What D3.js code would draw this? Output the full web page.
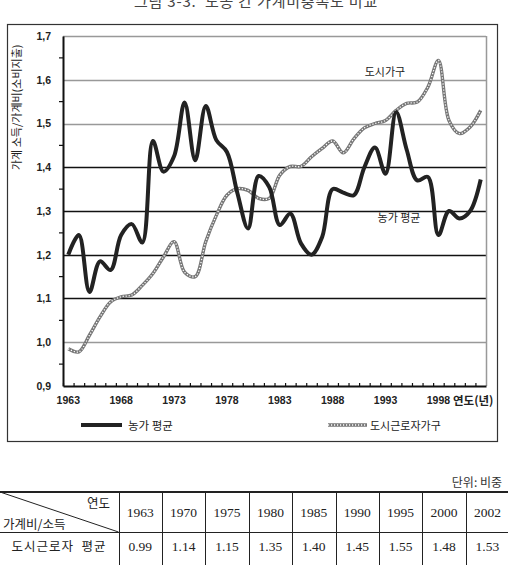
<!DOCTYPE html>
<html>
<head>
<meta charset="utf-8">
<script src="https://cdn.jsdelivr.net/npm/d3@7"></script>
<style>
  body { margin: 0; background: #fff; }
  svg { display: block; font-family: "Noto Sans CJK KR", "Liberation Sans", sans-serif; }
  .tick-label { font-family: "Liberation Sans", Arial, sans-serif; font-weight: bold; fill: #222; }
  .num { font-family: "Liberation Serif", "Times New Roman", serif; }
</style>
</head>
<body>
<div id="chart"></div>
<script>
// categories
const years = [1963, 1964, 1965, 1966, 1967, 1968, 1969, 1970, 1971, 1972,
               1973, 1974, 1975, 1976, 1977, 1978, 1979, 1980, 1981, 1982,
               1983, 1984, 1985, 1986, 1987, 1988, 1989, 1990, 1991, 1992,
               1993, 1994, 1995, 1996, 1997, 1998, 1999, 2000, 2001, 2002];

// 농가 평균
const farmAvg = [1.20, 1.245, 1.115, 1.185, 1.165, 1.245, 1.27, 1.228, 1.46, 1.39,
                 1.425, 1.548, 1.416, 1.54, 1.462, 1.435, 1.34, 1.26, 1.38, 1.355,
                 1.268, 1.294, 1.226, 1.20, 1.24, 1.35, 1.342, 1.336, 1.40, 1.445,
                 1.385, 1.526, 1.44, 1.37, 1.378, 1.245, 1.30, 1.283, 1.30, 1.372];

// 도시근로자가구
const urbanWorker = [0.985, 0.978, 1.016, 1.058, 1.092, 1.104, 1.108, 1.13, 1.157, 1.195,
                     1.23, 1.16, 1.15, 1.23, 1.29, 1.336, 1.351, 1.347, 1.329, 1.329,
                     1.382, 1.402, 1.402, 1.424, 1.443, 1.46, 1.433, 1.465, 1.49, 1.50,
                     1.507, 1.53, 1.546, 1.549, 1.583, 1.644, 1.507, 1.477, 1.492, 1.53];

const yTicks = [0.9, 1.0, 1.1, 1.2, 1.3, 1.4, 1.5, 1.6, 1.7];
const xLabelYears = [1963, 1968, 1973, 1978, 1983, 1988, 1993, 1998];

// table below chart
const tableYears = [1963, 1970, 1975, 1980, 1985, 1990, 1995, 2000, 2002];
const tableValues = ["0.99", "1.14", "1.15", "1.35", "1.40", "1.45", "1.55", "1.48", "1.53"];

const W = 508, H = 565;
const plot = { left: 63, right: 486, top: 36, bottom: 386 };

const svg = d3.select("#chart").append("svg")
    .attr("width", W)
    .attr("height", H);

// title
svg.append("text")
    .attr("x", 256)
    .attr("y", 7)
    .attr("text-anchor", "middle")
    .style("font-size", "15px")
    .style("letter-spacing", "0.8px")
    .style("white-space", "pre")
    .style("fill", "#444")
    .text("그림 3-3.  도농 간 가계비충족도 비교");

// outer frame
svg.append("rect")
    .attr("x", 7.5).attr("y", 24.5)
    .attr("width", 490).attr("height", 417)
    .attr("fill", "none")
    .attr("stroke", "#333")
    .attr("stroke-width", 1.2);

const x = d3.scaleBand()
    .domain(years)
    .range([plot.left, plot.right]);

const y = d3.scaleLinear()
    .domain([0.9, 1.7])
    .range([plot.bottom, plot.top]);

const cx = d => x(d) + x.bandwidth() / 2;

// grid lines (1.1 - 1.4 are dark in the original)
const g = svg.append("g");
g.selectAll(".grid")
    .data(yTicks.filter(d => d > 0.9))
    .join("line")
    .attr("x1", plot.left).attr("x2", plot.right)
    .attr("y1", d => Math.round(y(d)) + 0.5)
    .attr("y2", d => Math.round(y(d)) + 0.5)
    .attr("stroke", d => (d > 1.05 && d < 1.45) ? "#111" : "#999")
    .attr("stroke-width", d => (d > 1.05 && d < 1.45) ? 1.4 : 1.5);

// right border of plot
g.append("line")
    .attr("x1", plot.right + 0.5).attr("x2", plot.right + 0.5)
    .attr("y1", plot.top).attr("y2", plot.bottom)
    .attr("stroke", "#999").attr("stroke-width", 1.5);

// y axis
const yAxis = d3.axisLeft(y)
    .tickValues(yTicks)
    .tickSize(0)
    .tickPadding(12)
    .tickFormat(d => d3.format(".1f")(d).replace(".", ","));

const yAxisG = svg.append("g")
    .attr("transform", `translate(${plot.left},0)`)
    .call(yAxis);
yAxisG.select(".domain").attr("stroke", "#111").attr("stroke-width", 2);
yAxisG.selectAll("text").attr("class", "tick-label").style("font-size", "10.5px");

// minor y ticks at the half steps
svg.append("g").selectAll("line")
    .data(yTicks.slice(0, -1).map(d => d + 0.05))
    .join("line")
    .attr("x1", plot.left - 4).attr("x2", plot.left)
    .attr("y1", d => y(d)).attr("y2", d => y(d))
    .attr("stroke", "#111").attr("stroke-width", 1.2);

// x axis
const xAxis = d3.axisBottom(x)
    .tickValues(xLabelYears)
    .tickSize(0)
    .tickPadding(11);

const xAxisG = svg.append("g")
    .attr("transform", `translate(0,${plot.bottom})`)
    .call(xAxis);
xAxisG.select(".domain").attr("stroke", "#111").attr("stroke-width", 2);
xAxisG.selectAll("text").attr("class", "tick-label").style("font-size", "10.5px");

// small ticks at band edges
svg.append("g").selectAll("line")
    .data(years)
    .join("line")
    .attr("x1", d => x(d) + 0.5).attr("x2", d => x(d) + 0.5)
    .attr("y1", plot.bottom - 3).attr("y2", plot.bottom)
    .attr("stroke", "#111").attr("stroke-width", 1.2);

svg.append("text")
    .attr("x", 453)
    .attr("y", 405)
    .style("font-size", "11.5px")
    .style("font-weight", "bold")
    .style("fill", "#222")
    .text("연도(년)");

// y axis title
svg.append("text")
    .attr("transform", "translate(21,170) rotate(-90)")
    .style("font-size", "11px")
    .style("fill", "#222")
    .text("가계 소득/가계비(소비지출)");

// lines
const line = (vals) => d3.line()
    .x((d, i) => cx(years[i]))
    .y(d => y(d))
    .curve(d3.curveCatmullRom.alpha(0.5))(vals);

// urban: chain of tiny rings
svg.append("path")
    .attr("d", line(urbanWorker))
    .attr("fill", "none")
    .attr("stroke", "#777")
    .attr("stroke-width", 3.4);
svg.append("path")
    .attr("d", line(urbanWorker))
    .attr("fill", "none")
    .attr("stroke", "#fff")
    .attr("stroke-width", 1.3)
    .attr("stroke-dasharray", "1.2 1.8");

svg.append("path")
    .attr("d", line(farmAvg))
    .attr("fill", "none")
    .attr("stroke", "#222")
    .attr("stroke-width", 4)
    .attr("stroke-linejoin", "round");

// in-chart labels
svg.append("text")
    .attr("x", 385).attr("y", 76)
    .attr("text-anchor", "middle")
    .style("font-size", "11px").style("fill", "#222")
    .text("도시가구");

svg.append("text")
    .attr("x", 399).attr("y", 222)
    .attr("text-anchor", "middle")
    .style("font-size", "11px").style("fill", "#222")
    .text("농가 평균");

// legend
const legend = svg.append("g");
legend.append("line")
    .attr("x1", 81).attr("x2", 122)
    .attr("y1", 425).attr("y2", 425)
    .attr("stroke", "#222").attr("stroke-width", 4);
legend.append("text")
    .attr("x", 128).attr("y", 429.5)
    .style("font-size", "11.5px").style("fill", "#222")
    .text("농가 평균");

legend.append("line")
    .attr("x1", 328).attr("x2", 367)
    .attr("y1", 425).attr("y2", 425)
    .attr("stroke", "#777").attr("stroke-width", 3.4);
legend.append("line")
    .attr("x1", 328).attr("x2", 367)
    .attr("y1", 425).attr("y2", 425)
    .attr("stroke", "#fff").attr("stroke-width", 1.3)
    .attr("stroke-dasharray", "1.2 1.8");
legend.append("text")
    .attr("x", 370).attr("y", 429.5)
    .style("font-size", "11px").style("fill", "#222")
    .text("도시근로자가구");

// table
svg.append("text")
    .attr("x", 502).attr("y", 487)
    .attr("text-anchor", "end")
    .style("font-size", "12px").style("fill", "#333")
    .text("단위: 비중");

const tTop = 492, tMid = 532, tBot = 565;
const firstCol = 118.5;
const colX = d3.scaleBand()
    .domain(tableYears)
    .range([firstCol, firstCol + 43.4 * tableYears.length]);

const t = svg.append("g");
t.append("line")
    .attr("x1", 0).attr("x2", W)
    .attr("y1", tTop).attr("y2", tTop)
    .attr("stroke", "#222").attr("stroke-width", 2);
t.append("line")
    .attr("x1", 0).attr("x2", W)
    .attr("y1", tMid + 0.5).attr("y2", tMid + 0.5)
    .attr("stroke", "#222").attr("stroke-width", 1);
t.selectAll(".col")
    .data([firstCol].concat(tableYears.slice(1).map(d => colX(d))))
    .join("line")
    .attr("x1", d => Math.round(d) + 0.5).attr("x2", d => Math.round(d) + 0.5)
    .attr("y1", tTop).attr("y2", tBot)
    .attr("stroke", "#222").attr("stroke-width", 1);

// diagonal header cell
t.append("line")
    .attr("x1", 0).attr("y1", tTop)
    .attr("x2", firstCol).attr("y2", tMid)
    .attr("stroke", "#222").attr("stroke-width", 1);
t.append("text")
    .attr("x", 110).attr("y", 508)
    .attr("text-anchor", "end")
    .style("font-size", "12.5px").style("fill", "#222")
    .text("연도");
t.append("text")
    .attr("x", 3).attr("y", 529)
    .style("font-size", "12.5px").style("fill", "#222")
    .text("가계비/소득");

t.selectAll(".yr")
    .data(tableYears)
    .join("text")
    .attr("class", "num")
    .attr("x", d => colX(d) + colX.bandwidth() / 2)
    .attr("y", 517)
    .attr("text-anchor", "middle")
    .style("font-size", "13.5px").style("fill", "#222")
    .text(d => d);

t.append("text")
    .attr("x", 59).attr("y", 551)
    .attr("text-anchor", "middle")
    .style("font-size", "12.5px").style("letter-spacing", "1px")
    .style("white-space", "pre").style("fill", "#222")
    .text("도시근로자  평균");

t.selectAll(".val")
    .data(tableValues)
    .join("text")
    .attr("class", "num")
    .attr("x", (d, i) => colX(tableYears[i]) + colX.bandwidth() / 2)
    .attr("y", 551)
    .attr("text-anchor", "middle")
    .style("font-size", "13.5px").style("fill", "#222")
    .text(d => d);
</script>
</body>
</html>
